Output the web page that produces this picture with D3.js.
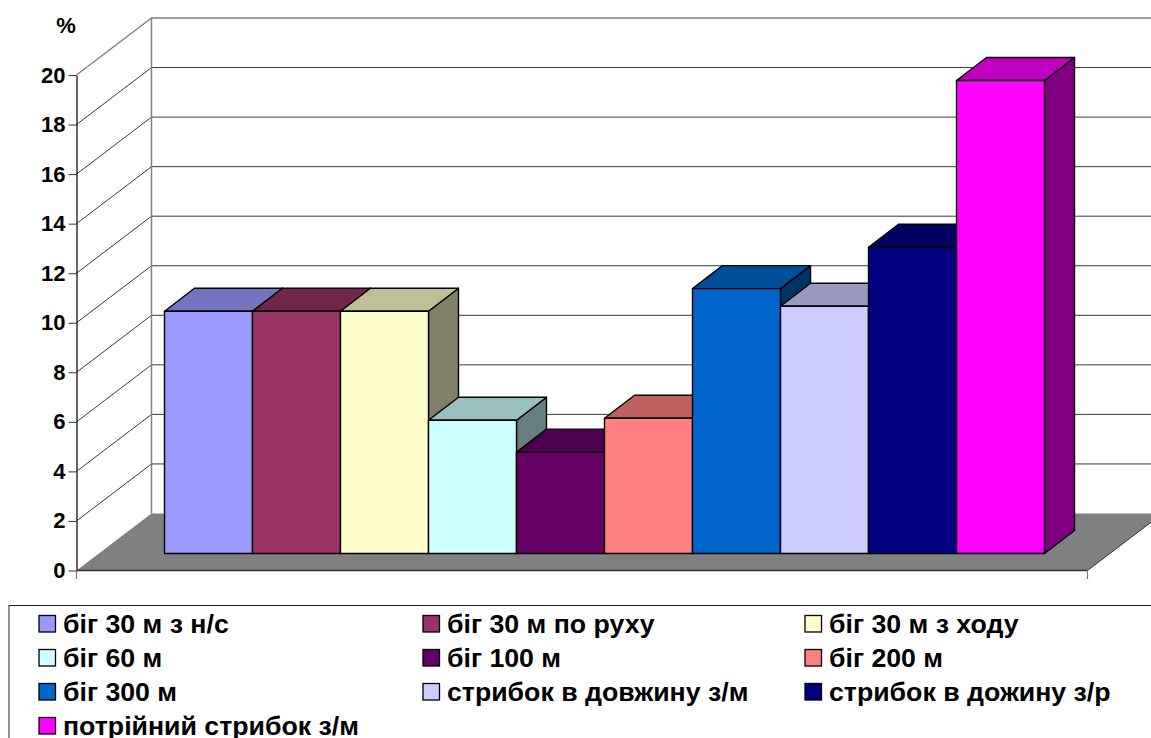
<!DOCTYPE html>
<html>
<head>
<meta charset="utf-8">
<script src="https://cdn.jsdelivr.net/npm/d3@7"></script>
<style>
  html, body { margin: 0; padding: 0; background: #fff; overflow: hidden; }
  text { font-family: "Liberation Sans", Arial, sans-serif; font-weight: bold; fill: #000; }
</style>
</head>
<body>
<div id="chart"></div>
<script>
const categories = ["біг 30 м з н/с", "біг 30 м по руху", "біг 30 м з ходу", "біг 60 м", "біг 100 м",
  "біг 200 м", "біг 300 м", "стрибок в довжину з/м", "стрибок в дожину з/р", "потрійний стрибок з/м"];
const values = [9.78, 9.78, 9.78, 5.38, 4.09, 5.46, 10.69, 9.98, 12.36, 19.09];
const colors = ["#9999ff", "#993366", "#ffffcc", "#ccffff", "#660066", "#ff8080", "#0066cc", "#ccccff", "#000080", "#ff00ff"];
const yTicks = d3.range(0, 21, 2);

/* svg setup */
const width = 1151, height = 738;
const plot = { left: 76.5, right: 1087.5, top: 75, bottom: 570.5 };
const wall = { dx: 75, dy: -57 };     // floor depth
const barInset = { dy: -17 };         // where the bars stand on the floor
const barDepth = { dx: 30, dy: -23 };

const svg = d3.select("#chart").append("svg")
  .attr("width", width)
  .attr("height", height);

const y = d3.scaleLinear().domain([0, 20]).range([plot.bottom, plot.top]);
const x = d3.scaleBand().domain(categories)
  .range([plot.left + 88, plot.right - 43]);

const poly = (g, pts, fill, stroke, sw) => g.append("polygon")
  .attr("points", pts.map(p => p.join(",")).join(" "))
  .attr("fill", fill)
  .attr("stroke", stroke)
  .attr("stroke-width", sw)
  .attr("stroke-linejoin", "round");

/* back wall + side wall grid */
const grid = svg.append("g");
yTicks.filter(t => t > 0).forEach(t => {
  const c = t === 20 ? "#808080" : "#3a3a3a";
  grid.append("path")
    .attr("d", `M${plot.left},${y(t)}L${plot.left + wall.dx},${y(t) + wall.dy}H${plot.right + wall.dx}`)
    .attr("fill", "none")
    .attr("stroke", c)
    .attr("stroke-width", t === 20 ? 1.3 : 1);
});
grid.append("line")
  .attr("x1", plot.left + wall.dx).attr("x2", plot.left + wall.dx)
  .attr("y1", y(20) + wall.dy).attr("y2", y(0) + wall.dy)
  .attr("stroke", "#808080").attr("stroke-width", 1.5);

/* floor */
poly(svg, [[plot.left, y(0)], [plot.left + wall.dx, y(0) + wall.dy],
  [plot.right + wall.dx, y(0) + wall.dy], [plot.right, y(0)]], "#808080", "none", 0);
svg.append("line")
  .attr("x1", plot.right).attr("x2", plot.right + wall.dx)
  .attr("y1", y(0)).attr("y2", y(0) + wall.dy)
  .attr("stroke", "#333").attr("stroke-width", 1);
svg.append("line")
  .attr("x1", plot.left).attr("x2", plot.right)
  .attr("y1", y(0)).attr("y2", y(0))
  .attr("stroke", "#333").attr("stroke-width", 1.5);

/* bars, painted left to right so later ones cover earlier sides */
const shade = (c, k) => {
  const r = d3.rgb(c);
  return d3.rgb(r.r * k, r.g * k, r.b * k).formatHex();
};
const bars = svg.append("g").attr("stroke-linejoin", "round");
categories.forEach((name, i) => {
  const x0 = x(name), x1 = x0 + x.bandwidth();
  const yb = y(0) + barInset.dy, yt = y(values[i]) + barInset.dy;
  const dx = barDepth.dx, dy = barDepth.dy;
  const g = bars.append("g");
  poly(g, [[x1, yb], [x1 + dx, yb + dy], [x1 + dx, yt + dy], [x1, yt]], shade(colors[i], 0.5), "#000", 1.4);
  poly(g, [[x0, yt], [x0 + dx, yt + dy], [x1 + dx, yt + dy], [x1, yt]], shade(colors[i], 0.75), "#000", 1.4);
  poly(g, [[x0, yb], [x1, yb], [x1, yt], [x0, yt]], colors[i], "#000", 1.4);
});

/* y axis */
const yAxis = d3.axisLeft(y).tickValues(yTicks).tickSize(8).tickPadding(3).tickSizeOuter(0);
const axisG = svg.append("g")
  .attr("transform", `translate(${plot.left},0)`)
  .call(yAxis);
axisG.select(".domain").attr("stroke", "#111").attr("stroke-width", 1.3);
axisG.selectAll(".tick line").attr("stroke", "#333");
axisG.selectAll("text")
  .attr("font-size", 22)
  .style("font-family", '"Liberation Sans", Arial, sans-serif')
  .style("font-weight", "bold")
  .attr("fill", "#000");
svg.append("text").attr("x", 66).attr("y", 33).attr("text-anchor", "middle").attr("font-size", 22).text("%");

// the two end ticks below the front edge
[plot.left, plot.right].forEach(px => {
  svg.append("line")
    .attr("x1", px).attr("x2", px)
    .attr("y1", y(0)).attr("y2", y(0) + 8.5)
    .attr("stroke", "#777").attr("stroke-width", 1.2);
});

/* legend */
const legendCols = [39, 423, 805];
const legendRows = [624, 658, 692, 726];
const legend = svg.append("g");
legend.append("rect")
  .attr("x", 9).attr("y", 605.5)
  .attr("width", 1200).attr("height", 200)
  .attr("fill", "#fff").attr("stroke", "#222").attr("stroke-width", 1);
categories.forEach((name, i) => {
  const lx = legendCols[i % 3], ly = legendRows[Math.floor(i / 3)];
  legend.append("rect")
    .attr("x", lx).attr("y", ly - 8.5)
    .attr("width", 16.5).attr("height", 16.5)
    .attr("fill", colors[i]).attr("stroke", "#000").attr("stroke-width", 1.3);
  legend.append("text")
    .attr("x", lx + 24).attr("y", ly + 8.5)
    .attr("font-size", 26.7)
    .text(name);
});
</script>
</body>
</html>
